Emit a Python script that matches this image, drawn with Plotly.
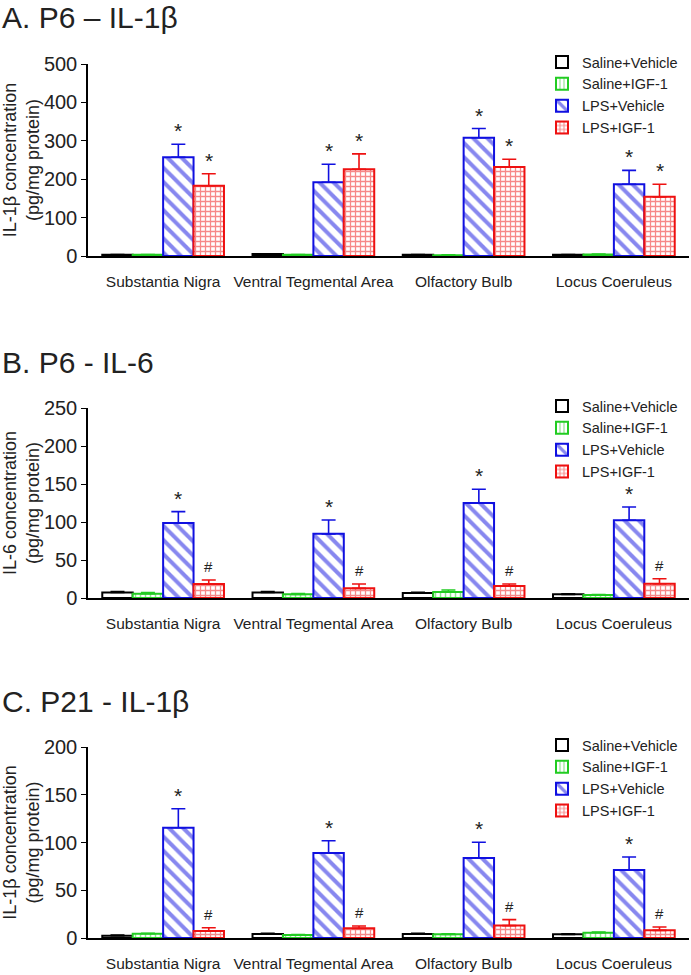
import plotly.graph_objects as go

# ---- data ----
regions = ["Substantia Nigra", "Ventral Tegmental Area", "Olfactory Bulb", "Locus Coeruleus"]
groups = ["Saline+Vehicle", "Saline+IGF-1", "LPS+Vehicle", "LPS+IGF-1"]

# A. P6 - IL-1beta
a_sal_veh = [3, 5, 3, 3]
a_sal_igf = [3, 3, 2, 4]
a_lps_veh = [257, 192, 308, 187]
a_lps_igf = [183, 226, 232, 154]
a_sal_veh_err = [1, 1, 1, 1]
a_sal_igf_err = [1, 1, 1, 1]
a_lps_veh_err = [34, 47, 24, 36]
a_lps_igf_err = [31, 40, 20, 33]
a_marks = ["", "", "*", "*"]

# B. P6 - IL-6
b_sal_veh = [7.4, 7.4, 6.6, 4.8]
b_sal_igf = [5.7, 4.8, 7.9, 3.9]
b_lps_veh = [98.8, 84.4, 125, 102.3]
b_lps_igf = [18.4, 12.7, 15.7, 18.8]
b_sal_veh_err = [1, 1, 1, 0.8]
b_sal_igf_err = [1.5, 1, 2.6, 0.8]
b_lps_veh_err = [14.8, 18.3, 18, 17.5]
b_lps_igf_err = [5.2, 5.7, 2.7, 6.5]
b_marks = ["", "", "*", "#"]

# C. P21 - IL-1beta
c_sal_veh = [2.4, 4.2, 4.2, 3.8]
c_sal_igf = [4.5, 3.1, 3.8, 5.6]
c_lps_veh = [115.5, 89, 83.8, 71.2]
c_lps_igf = [7.3, 10.1, 13, 8]
c_sal_veh_err = [0.7, 0.6, 0.6, 0.6]
c_sal_igf_err = [0.5, 0.5, 0.5, 0.5]
c_lps_veh_err = [19.9, 12.9, 16.4, 13.6]
c_lps_igf_err = [3.5, 2.5, 6.2, 3.5]
c_marks = ["", "", "*", "#"]

panels = [
    dict(title="A. P6 \u2013 IL-1\u03b2", ytitle="IL-1\u03b2 concentration<br>(pg/mg protein)",
         ymax=500, dtick=100,
         vals=[a_sal_veh, a_sal_igf, a_lps_veh, a_lps_igf],
         errs=[a_sal_veh_err, a_sal_igf_err, a_lps_veh_err, a_lps_igf_err],
         marks=a_marks, top=64, bottom=256, title_y=17),
    dict(title="B. P6 - IL-6", ytitle="IL-6 concentration<br>(pg/mg protein)",
         ymax=250, dtick=50,
         vals=[b_sal_veh, b_sal_igf, b_lps_veh, b_lps_igf],
         errs=[b_sal_veh_err, b_sal_igf_err, b_lps_veh_err, b_lps_igf_err],
         marks=b_marks, top=408, bottom=598, title_y=362),
    dict(title="C. P21 - IL-1\u03b2", ytitle="IL-1\u03b2 concentration<br>(pg/mg protein)",
         ymax=200, dtick=50,
         vals=[c_sal_veh, c_sal_igf, c_lps_veh, c_lps_igf],
         errs=[c_sal_veh_err, c_sal_igf_err, c_lps_veh_err, c_lps_igf_err],
         marks=c_marks, top=747, bottom=938, title_y=701),
]

W, H = 691, 975
X0, X1 = 88, 689
BARGAP = 0.19
colors = ["black", "#22cc22", "#1010e0", "#ee1111"]
shapes = ["", "|", "\\", "+"]
psizes = [8, 5, 10, 5]
psolid = [0.3, 0.3, 0.4, 0.45]
FONT = "Liberation Sans, Arial, sans-serif"
INK = "#222222"

fig = go.Figure()
layout = dict(
    width=W, height=H, margin=dict(l=0, r=0, t=0, b=0, autoexpand=False),
    plot_bgcolor="white", paper_bgcolor="white",
    barmode="group", bargap=BARGAP, bargroupgap=0,
    font=dict(family=FONT, color=INK),
    annotations=[],
)

bar_px = (X1 - X0) / len(regions) * (1 - BARGAP) / len(groups)

for p, panel in enumerate(panels):
    n = "" if p == 0 else str(p + 1)
    xa, ya, lg = "x" + n, "y" + n, "legend" + n
    for i, g in enumerate(groups):
        fig.add_trace(go.Bar(
            x=regions, y=panel["vals"][i], name=g,
            xaxis=xa, yaxis=ya, legend=lg,
            marker=dict(
                color="white",
                line=dict(color=colors[i], width=2),
                pattern=dict(shape=shapes[i], fgcolor=colors[i], bgcolor="white",
                             size=psizes[i], solidity=psolid[i]),
            ),
            error_y=dict(type="data", symmetric=False, array=panel["errs"][i],
                         arrayminus=[0] * len(regions), color=colors[i],
                         thickness=1.6, width=7),
        ))
        # significance marks above the error bars
        if panel["marks"][i]:
            star = panel["marks"][i] == "*"
            for r, reg in enumerate(regions):
                layout["annotations"].append(dict(
                    x=reg, y=panel["vals"][i][r] + panel["errs"][i][r],
                    xref=xa, yref=ya, text=panel["marks"][i],
                    showarrow=False, yanchor="bottom", yshift=0 if star else 3,
                    xshift=(i - 1.5) * bar_px,
                    font=dict(size=21 if star else 15, color=INK),
                ))
    layout["xaxis" + n] = dict(
        domain=[X0 / W, X1 / W], anchor=ya, showline=True, linecolor="black",
        linewidth=1.5, ticks="", showgrid=False, tickfont=dict(size=15.5),
        automargin=False, ticklabelstandoff=11,
    )
    layout["yaxis" + n] = dict(
        domain=[1 - panel["bottom"] / H, 1 - panel["top"] / H], anchor=xa,
        range=[0, panel["ymax"]], dtick=panel["dtick"], showline=True,
        linecolor="black", linewidth=1.5, ticks="outside", ticklen=5,
        tickcolor="black", showgrid=False, zeroline=False,
        tickfont=dict(size=20), automargin=False,
        title=dict(text=panel["ytitle"], font=dict(size=18), standoff=7),
    )
    layout[lg] = dict(
        x=542 / W, y=1 - (panel["top"] - 18) / H, xanchor="left", yanchor="top",
        bgcolor="rgba(0,0,0,0)", font=dict(size=14.5), tracegroupgap=0,
        itemwidth=30,
    )
    layout["annotations"].append(dict(
        text=panel["title"], x=0, y=1 - panel["title_y"] / H,
        xref="paper", yref="paper", xanchor="left", yanchor="middle",
        showarrow=False, font=dict(size=30, color=INK),
    ))

fig.update_layout(**layout)
# drop the browser's default body margin so the figure sits at the page corner
fig.write_html("out.html", config={"displayModeBar": False},
               post_script="document.body.style.margin='0';")
